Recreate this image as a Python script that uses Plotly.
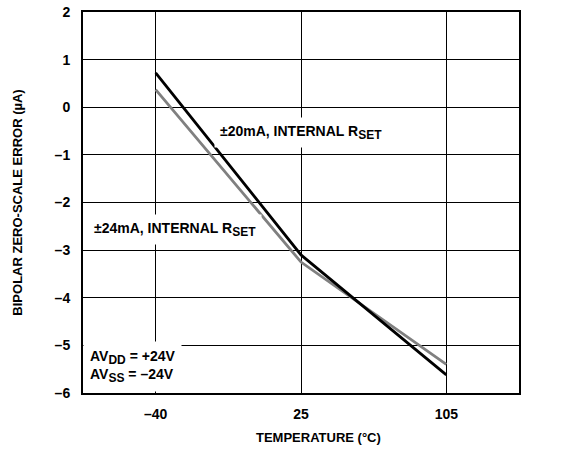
import plotly.graph_objects as go

temps = ["–40", "25", "105"]
err_20mA = [0.72, -3.1, -5.62]
err_24mA = [0.37, -3.25, -5.4]
y_ticks = [2, 1, 0, -1, -2, -3, -4, -5, -6]
y_tick_labels = ["2", "1", "0", "–1", "–2", "–3", "–4", "–5", "–6"]

xpos = list(range(len(temps)))
font_family = "Liberation Sans, Arial, sans-serif"

fig = go.Figure()
fig.add_trace(go.Scatter(x=xpos, y=err_24mA, mode="lines",
                         line=dict(color="#808080", width=2.8), showlegend=False))
fig.add_trace(go.Scatter(x=xpos, y=err_20mA, mode="lines",
                         line=dict(color="#000000", width=2.8), showlegend=False))

ann_font = dict(family=font_family, size=14, color="black")
sub = lambda s: '<sub><span style="font-size:12px">%s</span></sub>' % s
fig.add_annotation(x=1, y=-0.53, xref="x", yref="y",
                   text="<b>±20mA, INTERNAL R%s</b>" % sub("SET"),
                   showarrow=False, bgcolor="white", font=ann_font,
                   borderpad=5)
fig.add_annotation(x=0.13, y=-2.56, xref="x", yref="y",
                   text="<b>±24mA, INTERNAL R%s</b>" % sub("SET"),
                   showarrow=False, bgcolor="white", font=ann_font,
                   borderpad=5)
fig.add_annotation(x=-0.5, y=-5.45, xref="x", yref="y", xanchor="left",
                   text="<b>AV%s = +24V<br>AV%s = –24V</b>" % (sub("DD"), sub("SS")),
                   showarrow=False, bgcolor="white", font=ann_font, align="left",
                   borderpad=6)
# x-axis title (placed slightly right of centre, as in the reference)
fig.add_annotation(x=0.541, y=-0.1155, xref="paper", yref="paper",
                   xanchor="center", yanchor="middle",
                   text="<b>TEMPERATURE (°C)</b>", showarrow=False,
                   font=dict(family=font_family, size=13, color="black"))

fig.update_layout(
    width=574, height=450,
    margin=dict(l=83, r=55, t=12, b=57),
    paper_bgcolor="white", plot_bgcolor="white",
    font=dict(family=font_family, size=13, color="black"),
    xaxis=dict(range=[-0.5, 2.5], tickvals=xpos, ticktext=["<b>%s</b>" % t for t in temps],
               showgrid=True, gridcolor="black", gridwidth=1, zeroline=False,
               showline=True, linecolor="black", linewidth=2, mirror=True,
               ticks="", ticklabelstandoff=7, automargin=False,
               tickfont=dict(size=14)),
    yaxis=dict(range=[-6, 2], tickvals=y_ticks, ticktext=["<b>%s</b>" % t for t in y_tick_labels],
               showgrid=True, gridcolor="black", gridwidth=1, zeroline=False,
               showline=True, linecolor="black", linewidth=2, mirror=True,
               ticks="", ticklabelstandoff=8, automargin=False,
               title=dict(text="<b>BIPOLAR ZERO-SCALE ERROR (µA)</b>", font=dict(size=13), standoff=29),
               tickfont=dict(size=14)),
)

fig.write_html("out.html", config={"displayModeBar": False},
               post_script="document.body.style.margin='0';")
